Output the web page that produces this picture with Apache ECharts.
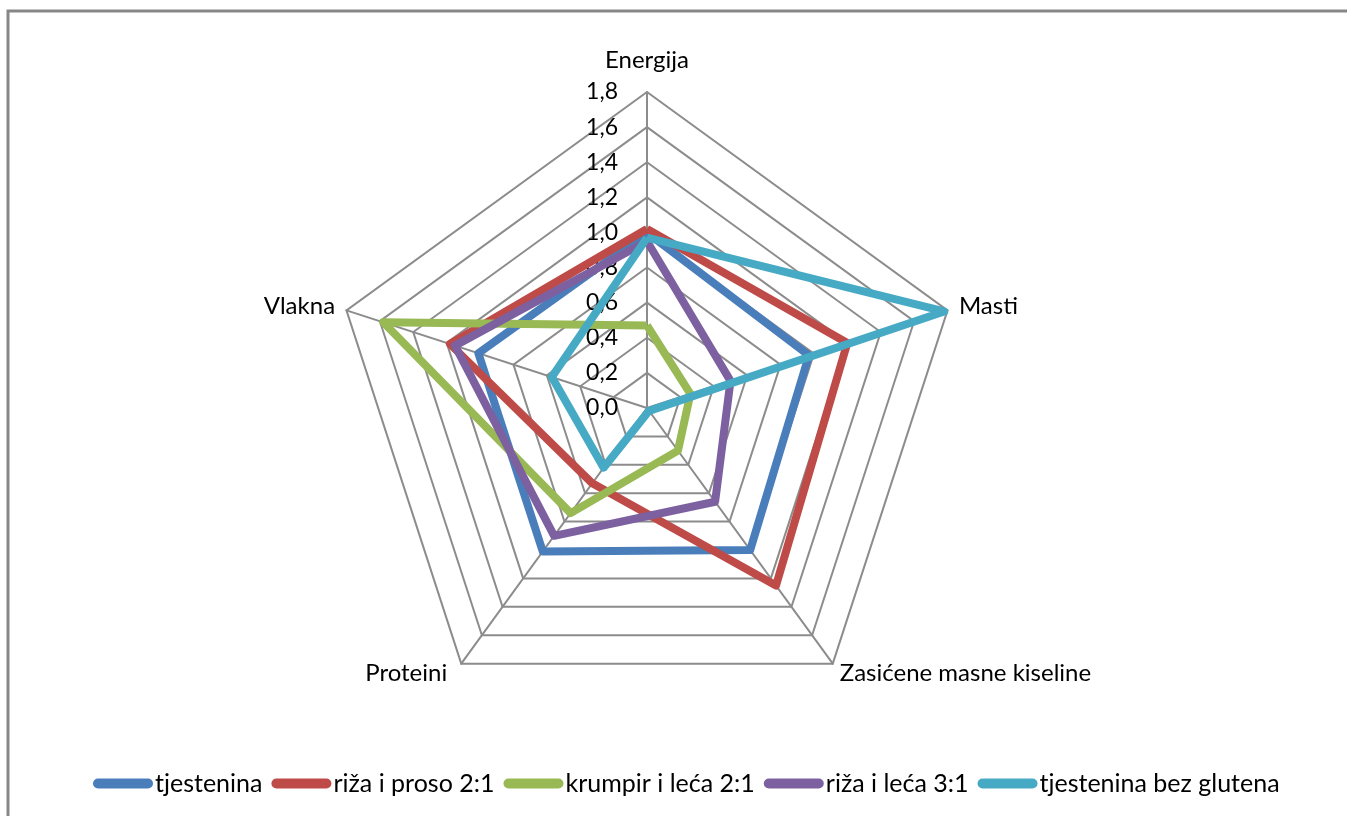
<!DOCTYPE html>
<html>
<head>
<meta charset="utf-8">
<style>
html,body{margin:0;padding:0;background:#fff;}
#c{width:1347px;height:816px;}
</style>
<script src="https://cdn.jsdelivr.net/npm/echarts@6/dist/echarts.min.js"></script>
</head>
<body>
<div id="c"></div>
<script>
// Categories in clockwise order starting from the top
const indicators = ['Energija', 'Masti', 'Zasićene masne kiseline', 'Proteini', 'Vlakna'];
const seriesNames = ['tjestenina', 'riža i proso 2:1', 'krumpir i leća 2:1', 'riža i leća 3:1', 'tjestenina bez glutena'];
const tjestenina = [1.00, 0.97, 1.00, 1.01, 1.01];
const rizaProso = [1.02, 1.20, 1.25, 0.53, 1.18];
const krumpirLeca = [0.47, 0.26, 0.30, 0.74, 1.58];
const rizaLeca = [0.95, 0.50, 0.66, 0.90, 1.15];
const bezGlutena = [0.97, 1.78, 0.02, 0.42, 0.57];
const tickLabels = ['0,0', '0,2', '0,4', '0,6', '0,8', '1,0', '1,2', '1,4', '1,6', '1,8'];
const colors = ['#4a7ebb', '#be4b48', '#98b954', '#7d60a0', '#46aac5'];
const axisMax = 1.8;

const allData = [tjestenina, rizaProso, krumpirLeca, rizaLeca, bezGlutena];
const FONT = 'Lato';

// ECharts radar runs counter-clockwise; reorder so the picture is clockwise.
const order = [0, 4, 3, 2, 1];
const radarIndicators = order.map(i => indicators[i]);

const chart = echarts.init(document.getElementById('c'));
chart.setOption({
  backgroundColor: '#fff',
  animation: false,
  color: colors,
  textStyle: { fontFamily: FONT },
  graphic: [{
    type: 'rect',
    shape: { x: 8, y: 11, width: 1400, height: 900 },
    style: { fill: 'none', stroke: '#878787', lineWidth: 3 },
    silent: true
  }],
  legend: {
    left: 88,
    top: 766,
    itemWidth: 60,
    itemHeight: 10,
    itemGap: 9,
    icon: 'path://M5,0 H55 A5,5 0 0 1 55,10 H5 A5,5 0 0 1 5,0 Z',
    textStyle: { fontSize: 25, color: '#000', fontFamily: FONT, padding: [0, 0, 0, -3] },
    data: seriesNames
  },
  radar: {
    center: [647, 408],
    radius: 316,
    startAngle: 90,
    splitNumber: 9,
    shape: 'polygon',
    nameGap: 12,
    axisName: {
      color: '#000', fontSize: 24, fontFamily: FONT,
      formatter: n => n === 'Energija' ? '{top|' + n + '}' : (n === 'Proteini' ? '{pl|' + n + '}' : n),
      rich: {
        top: { fontSize: 24, fontFamily: FONT, color: '#000', padding: [0, 0, 8, 0] },
        pl: { fontSize: 24, fontFamily: FONT, color: '#000', padding: [0, 7, 0, 0] }
      }
    },
    axisLine: { show: true, lineStyle: { color: '#8c8c8c', width: 2 } },
    splitLine: { show: true, lineStyle: { color: '#8c8c8c', width: 2 } },
    splitArea: { show: false },
    axisTick: { show: false },
    axisLabel: { show: false },
    indicator: radarIndicators.map((n, i) => {
      const o = { name: n, min: 0, max: axisMax };
      if (i === 0) {
        o.axisLabel = {
          show: true,
          color: '#000',
          fontSize: 23,
          fontFamily: FONT,
          margin: 29,
          showMinLabel: true,
          showMaxLabel: true,
          formatter: v => tickLabels[Math.round(v / 0.2)]
        };
      }
      return o;
    })
  },
  series: [{
    type: 'radar',
    symbol: 'none',
    data: allData.map((d, i) => ({
      name: seriesNames[i],
      value: order.map(k => d[k]),
      lineStyle: { width: 8, color: colors[i] },
      itemStyle: { color: colors[i] }
    }))
  }]
});
</script>
</body>
</html>
